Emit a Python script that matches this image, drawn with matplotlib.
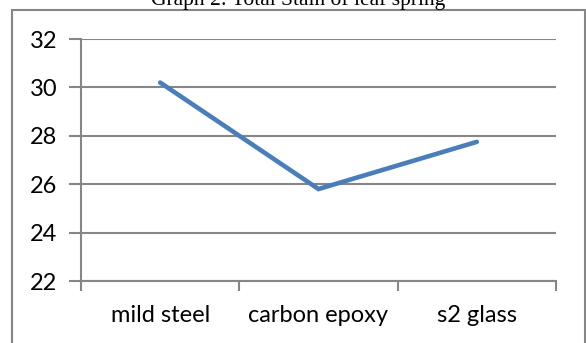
import matplotlib
matplotlib.use("Agg")
import matplotlib.pyplot as plt
from matplotlib.patches import Rectangle

# Data
materials = ["mild steel", "carbon epoxy", "s2 glass"]
total_strain = [30.2, 25.8, 27.75]
y_ticks = [22, 24, 26, 28, 30, 32]
title = "Graph 2: Total Stain of leaf spring"

W, H = 586, 343
fig = plt.figure(figsize=(W / 100, H / 100), dpi=100)

grey = "#868686"
line_blue = "#4A7EBB"

# Outer chart frame
frame = Rectangle((12 / W, -0.1), (585 - 12) / W, 1 - 10 / H + 0.1,
                  transform=fig.transFigure, fill=False,
                  edgecolor=grey, linewidth=1.5, zorder=0)
fig.patches.append(frame)

# Title (partly cropped at the top edge)
fig.text(298.5 / W, 1 - 5 / H, title, ha="center", va="baseline",
         family="Liberation Serif", fontsize=15.5, color="black")

ax = fig.add_axes([81 / W, 1 - 281 / H, (556 - 81) / W, (281 - 39) / H])

x = list(range(len(materials)))
ax.plot(x, total_strain, color=line_blue, linewidth=3.3,
        solid_capstyle="round", solid_joinstyle="miter", zorder=3)

ax.set_xlim(-0.5, len(materials) - 0.5)
ax.set_ylim(min(y_ticks), max(y_ticks))
ax.set_yticks(y_ticks)
ax.set_yticklabels([str(v) for v in y_ticks], family="Lato", fontsize=17)

# Category labels at centers, tick marks at category boundaries
ax.set_xticks([i - 0.5 for i in range(len(materials) + 1)])
ax.set_xticklabels([])
ax.set_xticks(x, minor=True)
ax.set_xticklabels(materials, minor=True, family="Lato", fontsize=17)
ax.tick_params(axis="x", which="minor", length=0, pad=17)
ax.tick_params(axis="x", which="major", length=7, width=1.5, color=grey)
ax.tick_params(axis="y", length=9, width=1.5, color=grey, pad=8)

ax.yaxis.grid(True, color=grey, linewidth=1.5)
ax.set_axisbelow(True)
for side in ("top", "right"):
    ax.spines[side].set_visible(False)
for side in ("left", "bottom"):
    ax.spines[side].set_color(grey)
    ax.spines[side].set_linewidth(1.5)

fig.savefig("out.png", dpi=100)
